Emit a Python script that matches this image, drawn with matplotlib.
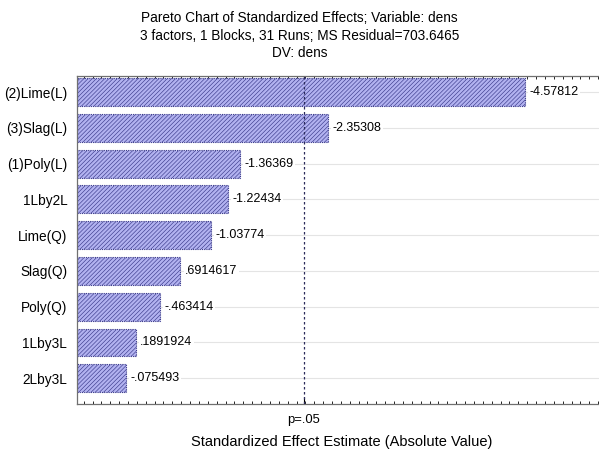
import numpy as np
import matplotlib
matplotlib.use('Agg')
import matplotlib.pyplot as plt
from matplotlib.ticker import MultipleLocator

plt.rcParams['font.family'] = ['Liberation Sans', 'DejaVu Sans']
plt.rcParams['hatch.color'] = '#8e8ee0'
plt.rcParams['hatch.linewidth'] = 0.45

# effects, in Pareto order (largest first)
effects = ['(2)Lime(L)', '(3)Slag(L)', '(1)Poly(L)', '1Lby2L', 'Lime(Q)',
           'Slag(Q)', 'Poly(Q)', '1Lby3L', '2Lby3L']
t_values = [-4.57812, -2.35308, -1.36369, -1.22434, -1.03774,
            0.6914617, -0.463414, 0.1891924, -0.075493]
value_labels = ['-4.57812', '-2.35308', '-1.36369', '-1.22434', '-1.03774',
                '.6914617', '-.463414', '.1891924', '-.075493']
p_crit = 2.08

fig = plt.figure(figsize=(5.99, 4.5), dpi=100)
ax = fig.add_axes([77 / 599, 46 / 450, 530 / 599, 328 / 450])

xmin = -0.475
n = len(effects)
ypos = np.arange(n)[::-1]
absval = np.abs(t_values)

for y in ypos:
    ax.axhline(y, color='#e4e4e4', lw=0.8, zorder=0)

ax.barh(ypos, absval + (-xmin), left=xmin, height=0.78,
        color='#b2b2f0', edgecolor='#3c3c8c', linewidth=0.8,
        linestyle=(0, (1, 1)), hatch='////////', zorder=2)

for y, v, lab in zip(ypos, absval, value_labels):
    ax.text(v + 0.05, y, lab, va='center', ha='left', fontsize=9,
            color='black', zorder=3,
            bbox=dict(facecolor='white', edgecolor='none', pad=1))

ax.axvline(p_crit, color='#2a2a5a', lw=0.9, linestyle=(0, (2, 2)), zorder=4)

ax.set_xlim(xmin, xmin + 530 / 88.7)
ax.set_ylim(-0.72, n - 1 + 0.45)
ax.set_yticks(ypos)
ax.set_yticklabels(effects, fontsize=9.8)
ax.tick_params(axis='y', length=3, direction='in', pad=7)

ax.set_xticks([p_crit])
ax.set_xticklabels(['p=.05'], fontsize=9.4)
ax.xaxis.set_minor_locator(MultipleLocator(0.1))
ax.tick_params(axis='x', which='major', length=5, direction='in', pad=7,
               top=True)
ax.tick_params(axis='x', which='minor', length=2.5, direction='in', top=True)
for s in ['top', 'bottom', 'left']:
    ax.spines[s].set_color('#707070')
    ax.spines[s].set_linewidth(0.9)
ax.spines['right'].set_visible(False)

ax.set_xlabel('Standardized Effect Estimate (Absolute Value)', fontsize=10.5,
              labelpad=7)
fig.text(0.5, 1 - 11 / 450,
         'Pareto Chart of Standardized Effects; Variable: dens\n'
         '3 factors, 1 Blocks, 31 Runs; MS Residual=703.6465\nDV: dens',
         ha='center', va='top', fontsize=9.8, linespacing=1.33)

fig.savefig('out.png', dpi=100)
